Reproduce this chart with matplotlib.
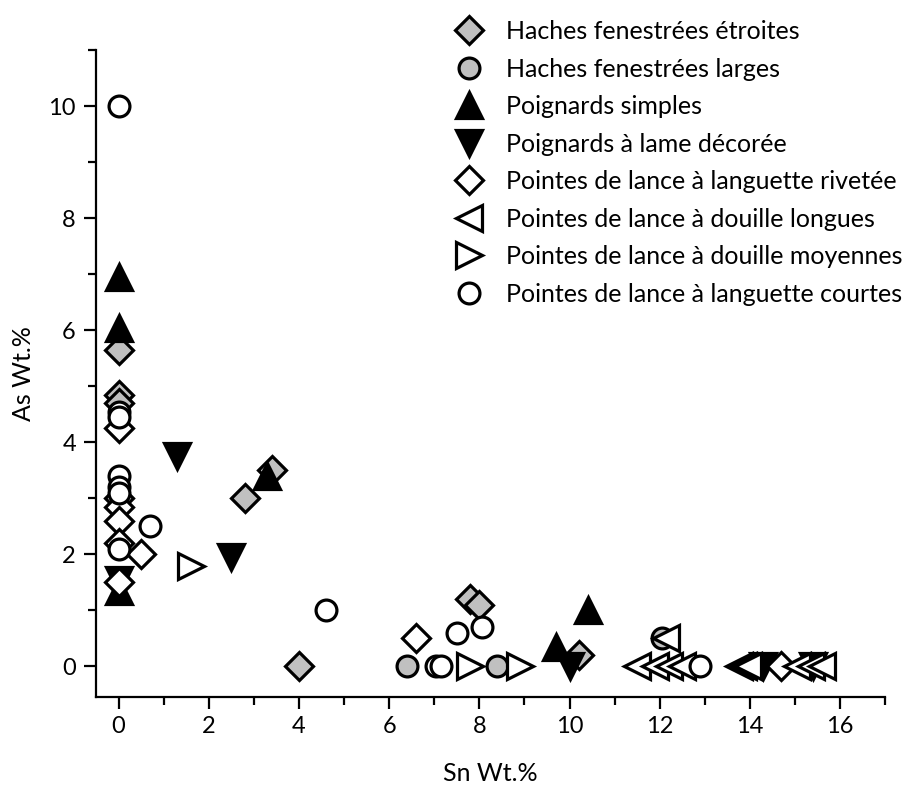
import matplotlib
matplotlib.use("Agg")
import matplotlib.pyplot as plt
from matplotlib.ticker import MultipleLocator

plt.rcParams['font.family'] = ['Lato', 'DejaVu Sans']

# Haches fenestrées étroites
hfe_x = [0, 0, 0, 2.8, 3.4, 4.0, 7.8, 8.0, 10.2]
hfe_y = [5.65, 4.85, 4.7, 3.0, 3.5, 0.0, 1.2, 1.1, 0.2]
# Haches fenestrées larges
hfl_x = [6.4, 8.4, 12.05]
hfl_y = [0, 0, 0.5]
# Poignards simples
ps_x = [0, 0, 0, 3.3, 9.7, 10.4]
ps_y = [6.95, 6.05, 1.35, 3.4, 0.35, 1.0]
# Poignards à lame décorée
pld_x = [0, 1.3, 2.5, 10.0, 14.3, 15.4]
pld_y = [1.55, 3.75, 1.95, 0.0, 0.0, 0.0]
# Pointes de lance à languette rivetée
plr_x = [0, 0, 0, 0, 0, 0, 0.5, 6.6, 14.7]
plr_y = [4.25, 3.0, 2.85, 2.6, 2.2, 1.5, 2.0, 0.5, 0.0]
# Pointes de lance à douille longues
pdl_x = [12.15, 11.5, 11.9, 12.2, 12.5, 13.75, 13.85, 13.95, 15.05, 15.35, 15.6]
pdl_y = [0.5, 0, 0, 0, 0, 0, 0, 0, 0, 0, 0]
# Pointes de lance à douille moyennes
pdm_x = [1.6, 7.8, 8.9]
pdm_y = [1.8, 0, 0]
# Pointes de lance à languette courtes
plc_x = [0, 0, 0, 0, 0, 0, 0, 0.7, 4.6, 7.05, 7.15, 7.5, 8.05, 12.9]
plc_y = [10, 4.55, 4.45, 3.4, 3.2, 3.1, 2.1, 2.5, 1.0, 0, 0, 0.6, 0.7, 0]

gris = '#c0c0c0'
series = [
    (hfe_x, hfe_y, 'D', 14, gris, 'Haches fenestrées étroites'),
    (hfl_x, hfl_y, 'o', 15, gris, 'Haches fenestrées larges'),
    (ps_x, ps_y, '^', 19, 'black', 'Poignards simples'),
    (pld_x, pld_y, 'v', 19, 'black', 'Poignards à lame décorée'),
    (plr_x, plr_y, 'D', 14, 'white', 'Pointes de lance à languette rivetée'),
    (pdl_x, pdl_y, '<', 19, 'white', 'Pointes de lance à douille longues'),
    (pdm_x, pdm_y, '>', 19, 'white', 'Pointes de lance à douille moyennes'),
    (plc_x, plc_y, 'o', 15, 'white', 'Pointes de lance à languette courtes'),
]

fig = plt.figure(figsize=(9.06, 7.86), dpi=100)
ax = fig.add_axes([0.106, 0.113, 0.871, 0.823])

for x, y, m, ms, fc, lab in series:
    ax.plot(x, y, linestyle='none', marker=m, markersize=ms,
            markerfacecolor=fc, markeredgecolor='black', markeredgewidth=2.3,
            label=lab)

ax.set_xlim(-0.5, 17)
ax.set_ylim(-0.55, 11)
ax.xaxis.set_minor_locator(MultipleLocator(1))
ax.yaxis.set_minor_locator(MultipleLocator(1))
ax.set_xticks(range(0, 17, 2))
ax.set_yticks(range(0, 11, 2))

for side in ['top', 'right']:
    ax.spines[side].set_visible(False)
for side in ['left', 'bottom']:
    ax.spines[side].set_linewidth(1.6)

ax.tick_params(which='major', direction='out', length=8.5, width=1.6,
               labelsize=17)
ax.tick_params(which='minor', direction='out', length=5.5, width=1.6)
ax.tick_params(axis='x', which='major', pad=5)
ax.tick_params(axis='y', which='major', pad=6)

ax.set_xlabel('Sn Wt.%', fontsize=18, labelpad=18)
ax.set_ylabel('As Wt.%', fontsize=18, labelpad=10)

fig.legend(loc='upper left', bbox_to_anchor=(0.4795, 1.003), frameon=False,
           fontsize=18, handlelength=1.0, handletextpad=0.95,
           labelspacing=0.58, borderpad=0.4)

fig.savefig('out.png', dpi=100)
